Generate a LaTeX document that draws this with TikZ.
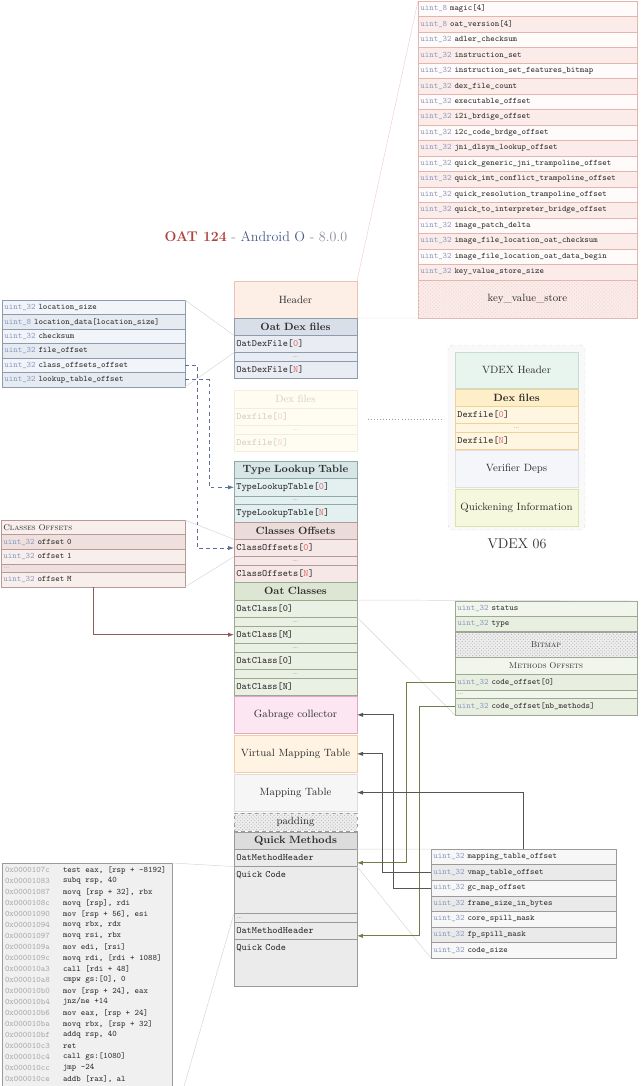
\documentclass[tikz,border=0pt]{standalone}
\usepackage{xcolor}
\usepackage{tikz}
\usetikzlibrary{positioning,calc,arrows.meta,patterns}
\definecolor{CInk}{HTML}{2E2E2E}
\definecolor{CType}{HTML}{8A9CC0}
\definecolor{CIdx}{HTML}{E07070}
\definecolor{CDots}{HTML}{999999}
\definecolor{CHdrLine}{HTML}{E3B5AE}
\definecolor{CHdrA}{HTML}{FFFBFA}
\definecolor{CHdrB}{HTML}{FBECE9}
\definecolor{CHead}{HTML}{FDEEE6}
\definecolor{CHeadLine}{HTML}{EBC3B5}
\definecolor{CDexLine}{HTML}{8E9AAE}
\definecolor{CDex}{HTML}{E9EDF3}
\definecolor{CDexT}{HTML}{D9DFE8}
\definecolor{CFade}{HTML}{FFFDF2}
\definecolor{CFadeLine}{HTML}{F3EEDC}
\definecolor{CFadeInk}{HTML}{D5CFC0}
\definecolor{CTlLine}{HTML}{8FA8A8}
\definecolor{CTl}{HTML}{E4EFEF}
\definecolor{CTlT}{HTML}{D6E5E5}
\definecolor{CCoLine}{HTML}{B49A98}
\definecolor{CCo}{HTML}{F5E8E6}
\definecolor{CCoT}{HTML}{ECDCD9}
\definecolor{COcLine}{HTML}{9AAA90}
\definecolor{COc}{HTML}{EAF0E3}
\definecolor{COcT}{HTML}{DCE6D2}
\definecolor{CGc}{HTML}{FCE6F1}
\definecolor{CGcLine}{HTML}{E6A6CB}
\definecolor{CVm}{HTML}{FFF3E4}
\definecolor{CVmLine}{HTML}{F1CD9F}
\definecolor{CMt}{HTML}{F6F6F6}
\definecolor{CMtLine}{HTML}{DDDDDD}
\definecolor{CPad}{HTML}{EEEEEE}
\definecolor{CPadDot}{HTML}{B5B5B5}
\definecolor{CQmLine}{HTML}{9A9A9A}
\definecolor{CQm}{HTML}{EBEBEB}
\definecolor{CQmT}{HTML}{DCDCDC}
\definecolor{CLocA}{HTML}{F1F4F8}
\definecolor{CLocB}{HTML}{E6EBF1}
\definecolor{CCoA}{HTML}{F8EEEC}
\definecolor{CCoB}{HTML}{EFE0DD}
\definecolor{COcA}{HTML}{F1F5EC}
\definecolor{COcB}{HTML}{E8EEE0}
\definecolor{CMhA}{HTML}{F7F7F7}
\definecolor{CMhB}{HTML}{EAEAEA}
\definecolor{CAsm}{HTML}{F0F0F0}
\definecolor{CAddr}{HTML}{A8A8A8}
\definecolor{CVdexBg}{HTML}{F9F9F9}
\definecolor{CVdexLine}{HTML}{DDDDDD}
\definecolor{CVh}{HTML}{E8F5EF}
\definecolor{CVhLine}{HTML}{C6DDD3}
\definecolor{CVd}{HTML}{FFF6E2}
\definecolor{CVdT}{HTML}{FFEFC8}
\definecolor{CVdLine}{HTML}{EDD39A}
\definecolor{CVer}{HTML}{F5F6F9}
\definecolor{CVerLine}{HTML}{E0E0E6}
\definecolor{CQk}{HTML}{F6F8DE}
\definecolor{CQkLine}{HTML}{DCE2A8}
\definecolor{CArrow}{HTML}{555555}
\definecolor{CGreenArr}{HTML}{6B7F47}
\definecolor{CBrown}{HTML}{8E5A5A}
\definecolor{CDash}{HTML}{5F6F9A}
\definecolor{CZoom}{HTML}{D5D5D5}
\definecolor{CZoomPink}{HTML}{F0D0CA}
\definecolor{COat}{HTML}{B0413E}
\definecolor{CAnd}{HTML}{4A5E8C}
\definecolor{CVer2}{HTML}{8A8A9A}
\newcommand{\fieldfont}{\fontsize{7.2pt}{8.5pt}\selectfont\ttfamily}
\newcommand{\colfont}{\fontsize{8.3pt}{10pt}\selectfont\ttfamily}
\newcommand{\capsfont}{\fontsize{7.2pt}{8.5pt}\selectfont\scshape}
\newcommand{\ui}[1]{\textcolor{CType}{uint\_#1}\ }
\newcommand{\ix}[1]{[\textcolor{CIdx}{#1}]}

\begin{document}
\begin{tikzpicture}[x=0.3mm, y=-0.3mm, every node/.style={outer sep=0pt, text=CInk},
  cell/.style={anchor=north west, inner xsep=2pt, inner ysep=0pt, align=left},
  srow/.style={cell, font=\fieldfont},
  sdots/.style={srow, font=\scriptsize, text=CDots},
  mrow/.style={cell, text width=35.49mm, minimum height=5.2mm, font=\colfont},
  mdots/.style={mrow, align=center, minimum height=2.6mm, font=\scriptsize, text=CDots},
  mtitle/.style={mrow, align=center, font=\small\bfseries},
  mblock/.style={anchor=north west, inner sep=0pt, minimum width=36.9mm, minimum height=11.1mm, font=\small},
  hatch/.style={postaction={pattern=crosshatch dots, pattern color=#1}},
  zl/.style={draw=#1, line width=0.4pt},
  ptr/.style={-{Latex[length=1.8mm, width=1.3mm]}, line width=0.65pt, draw=CArrow}]
\useasboundingbox (0,0) rectangle (640,1086);

\node[font=\large] (title) at (256,237) {\textcolor{COat}{\textbf{OAT 124}} \textcolor{CVer2}{-} \textcolor{CAnd}{Android O} \textcolor{CVer2}{- 8.0.0}};

\foreach \t/\f [count=\i from 0] in {8/magic[4], 8/oat\_version[4], 32/adler\_checksum, 32/instruction\_set,
    32/instruction\_set\_features\_bitmap, 32/dex\_file\_count, 32/executable\_offset, 32/i2i\_brdige\_offset,
    32/i2c\_code\_brdge\_offset, 32/jni\_dlsym\_lookup\_offset, 32/quick\_generic\_jni\_trampoline\_offset,
    32/quick\_imt\_conflict\_trampoline\_offset, 32/quick\_resolution\_trampoline\_offset,
    32/quick\_to\_interpreter\_bridge\_offset, 32/image\_patch\_delta, 32/image\_file\_location\_oat\_checksum,
    32/image\_file\_location\_oat\_data\_begin, 32/key\_value\_store\_size} {
  \ifodd\i \def\rowfill{CHdrB}\else\def\rowfill{CHdrA}\fi
  \node[srow, draw=CHdrLine, fill=\rowfill, text width=64.29mm, minimum height=4.65mm] (hd\i) at (418,1+15.5*\i) {\ui{\t}\f};
}
\node[mblock, draw=CHdrLine, fill=CHdrB, hatch=CHdrLine!60, minimum width=65.7mm, minimum height=11.4mm, below=0pt of hd17] (kvs) {key\_value\_store};

\node[mblock, fill=CHead, draw=CHeadLine] (header) at (234,281) {Header};
\node[mtitle, fill=CDexT, draw=CDexLine, below=0pt of header] (odft) {Oat Dex files};
\node[mrow, fill=CDex, draw=CDexLine, below=0pt of odft] (odf0) {OatDexFile\ix{0}};
\node[mdots, fill=CDex, draw=CDexLine, below=0pt of odf0] (odfd) {\dots};
\node[mrow, fill=CDex, draw=CDexLine, below=0pt of odfd] (odfn) {OatDexFile\ix{N}};

\node[mtitle, font=\small, fill=CFade, draw=CFadeLine, text=CFadeInk, below=3.6mm of odfn] (dxt) {Dex files};
\node[mrow, fill=CFade, draw=CFadeLine, text=CFadeInk, below=0pt of dxt] (dx0) {Dexfile[\textcolor{CIdx!30}{0}]};
\node[mdots, fill=CFade, draw=CFadeLine, text=CFadeInk, below=0pt of dx0] (dxd) {\dots};
\node[mrow, fill=CFade, draw=CFadeLine, text=CFadeInk, below=0pt of dxd] (dxn) {Dexfile[\textcolor{CIdx!30}{N}]};

\node[mtitle, fill=CTlT, draw=CTlLine, below=3mm of dxn] (tltt) {Type Lookup Table};
\node[mrow, fill=CTl, draw=CTlLine, below=0pt of tltt] (tlt0) {TypeLookupTable\ix{0}};
\node[mdots, fill=CTl, draw=CTlLine, below=0pt of tlt0] (tltd) {\dots};
\node[mrow, fill=CTl, draw=CTlLine, below=0pt of tltd] (tltn) {TypeLookupTable\ix{N}};

\node[mtitle, fill=CCoT, draw=CCoLine, below=0pt of tltn] (coft) {Classes Offsets};
\node[mrow, fill=CCo, draw=CCoLine, below=0pt of coft] (cof0) {ClassOffsets\ix{0}};
\node[mdots, fill=CCo, draw=CCoLine, below=0pt of cof0] (cofd) {\dots};
\node[mrow, fill=CCo, draw=CCoLine, below=0pt of cofd] (cofn) {ClassOffsets\ix{N}};

\node[mtitle, fill=COcT, draw=COcLine, below=0pt of cofn] (oct) {Oat Classes};
\node[mrow, fill=COc, draw=COcLine, below=0pt of oct] (oc0) {OatClass[0]};
\node[mdots, fill=COc, draw=COcLine, below=0pt of oc0] (ocd1) {\dots};
\node[mrow, fill=COc, draw=COcLine, below=0pt of ocd1] (ocM) {OatClass[M]};
\node[mdots, fill=COc, draw=COcLine, below=0pt of ocM] (ocd2) {\dots};
\node[mrow, fill=COc, draw=COcLine, below=0pt of ocd2] (oc0b) {OatClass[0]};
\node[mdots, fill=COc, draw=COcLine, below=0pt of oc0b] (ocd3) {\dots};
\node[mrow, fill=COc, draw=COcLine, below=0pt of ocd3] (ocN) {OatClass[N]};

\node[mblock, fill=CGc, draw=CGcLine, below=0.3mm of ocN] (gc) {Gabrage collector};
\node[mblock, fill=CVm, draw=CVmLine, below=0.6mm of gc] (vmt) {Virtual Mapping Table};
\node[mblock, fill=CMt, draw=CMtLine, minimum height=10.95mm, below=0.6mm of vmt] (mtab) {Mapping Table};
\node[mblock, fill=CPad, draw=CQmLine, dashed, hatch=CPadDot, minimum height=5.4mm, below=0.6mm of mtab] (pad) {padding};
\node[mtitle, fill=CQmT, draw=CQmLine, below=0.3mm of pad] (qmt) {Quick Methods};
\node[mrow, fill=CQm, draw=CQmLine, below=0pt of qmt] (omh1) {OatMethodHeader};
\node[mrow, fill=CQm, draw=CQmLine, text height=3.4mm, text depth=10.7mm, below=0pt of omh1] (qc1) {Quick Code};
\node[mdots, fill=CQm, draw=CQmLine, align=left, below=0pt of qc1] (qmd) {\dots};
\node[mrow, fill=CQm, draw=CQmLine, below=0pt of qmd] (omh2) {OatMethodHeader};
\node[mrow, fill=CQm, draw=CQmLine, text height=3.4mm, text depth=10.7mm, below=0pt of omh2] (qc2) {Quick Code};

\foreach \t/\f [count=\i from 0] in {32/location\_size, 8/location\_data[location\_size], 32/checksum,
    32/file\_offset, 32/class\_offsets\_offset, 32/lookup\_table\_offset} {
  \ifodd\i \def\rowfill{CLocB}\else\def\rowfill{CLocA}\fi
  \node[srow, draw=CDexLine, fill=\rowfill, text width=53.49mm, minimum height=4.35mm] (loc\i) at (2,300+14.5*\i) {\ui{\t}\f};
}

\node[srow, draw=CCoLine, fill=CCoA, text width=53.79mm, minimum height=4.35mm, font=\capsfont] (cot) at (1,520) {Classes Offsets};
\node[srow, draw=CCoLine, fill=CCoB, text width=53.79mm, minimum height=4.5mm, below=0pt of cot] (coo0) {\ui{32}offset 0};
\node[srow, draw=CCoLine, fill=CCoA, text width=53.79mm, minimum height=4.35mm, below=0pt of coo0] (coo1) {\ui{32}offset 1};
\node[sdots, draw=CCoLine, fill=CCoB, text width=53.79mm, minimum height=2.4mm, below=0pt of coo1] (cood) {\dots};
\node[srow, draw=CCoLine, fill=CCoA, text width=53.79mm, minimum height=4.5mm, below=0pt of cood] (cooM) {\ui{32}offset M};

\node[srow, draw=COcLine, fill=COcA, text width=53.19mm, minimum height=4.5mm] (cls0) at (455,601) {\ui{32}status};
\node[srow, draw=COcLine, fill=COcB, text width=53.19mm, minimum height=4.5mm, below=0pt of cls0] (cls1) {\ui{32}type};
\node[srow, draw=CQmLine, fill=CPad, hatch=CPadDot, align=center, font=\capsfont, text width=53.19mm, minimum height=7.5mm, below=0.3mm of cls1] (bmp) {Bitmap};
\node[srow, draw=COcLine, fill=COcA, align=center, font=\capsfont, text width=53.19mm, minimum height=5.1mm, below=0pt of bmp] (mof) {Methods Offsets};
\node[srow, draw=COcLine, fill=COcB, text width=53.19mm, minimum height=4.8mm, below=0pt of mof] (mo0) {\ui{32}code\_offset[0]};
\node[sdots, draw=COcLine, fill=COcA, text width=53.19mm, minimum height=2.4mm, below=0pt of mo0] (mod) {\dots};
\node[srow, draw=COcLine, fill=COcB, text width=53.19mm, minimum height=5.1mm, below=0pt of mod] (mon) {\ui{32}code\_offset[nb\_methods]};

\foreach \f [count=\i from 0] in {mapping\_table\_offset, vmap\_table\_offset, gc\_map\_offset,
    frame\_size\_in\_bytes, core\_spill\_mask, fp\_spill\_mask, code\_size} {
  \ifodd\i \def\rowfill{CMhB}\else\def\rowfill{CMhA}\fi
  \node[srow, draw=CQmLine, fill=\rowfill, text width=54.09mm, minimum height=4.68mm] (mh\i) at (431,849+15.6*\i) {\ui{32}\f};
}

\node[anchor=north west, draw=CQmLine, fill=CAsm, minimum width=51mm, minimum height=79.5mm] (asm) at (2,863) {};
\foreach \a/\c [count=\i from 0] in {107c/{test eax, [rsp + -8192]}, 1083/{subq rsp, 40}, 1087/{movq [rsp + 32], rbx},
    108c/{movq [rsp], rdi}, 1090/{mov [rsp + 56], esi}, 1094/{movq rbx, rdx}, 1097/{movq rsi, rbx},
    109a/{mov edi, [rsi]}, 109c/{movq rdi, [rdi + 1088]}, 10a3/{call [rdi + 48]}, 10a8/{cmpw gs:[0], 0},
    10b0/{mov [rsp + 24], eax}, 10b4/{jnz/ne +14}, 10b6/{mov eax, [rsp + 24]}, 10ba/{movq rbx, [rsp + 32]},
    10bf/{addq rsp, 40}, 10c3/{ret}, 10c4/{call gs:[1080]}, 10cc/{jmp -24}, 10ce/{addb [rax], al}} {
  \node[anchor=west, inner sep=0pt, font=\fieldfont, text=CAddr] (ad\i) at (5,870+11*\i) {0x0000\a};
  \node[anchor=west, inner sep=0pt, font=\fieldfont] (in\i) at (63,870+11*\i) {\c};
}

\node[anchor=north west, draw=CVdexLine, dashed, rounded corners=4pt, fill=CVdexBg, minimum width=41.1mm, minimum height=55.5mm] (vdex) at (448,345) {};
\node[mblock, fill=CVh, draw=CVhLine, minimum height=10.8mm] (vhd) at (455,352) {VDEX Header};
\node[mtitle, fill=CVdT, draw=CVdLine, below=0.3mm of vhd] (vdt) {Dex files};
\node[mrow, fill=CVd, draw=CVdLine, below=0pt of vdt] (vd0) {Dexfile\ix{0}};
\node[mdots, fill=CVd, draw=CVdLine, below=0pt of vd0] (vdd) {\dots};
\node[mrow, fill=CVd, draw=CVdLine, below=0pt of vdd] (vdn) {Dexfile\ix{N}};
\node[mblock, fill=CVer, draw=CVerLine, below=0.3mm of vdn] (ver) {Verifier Deps};
\node[mblock, fill=CQk, draw=CQkLine, below=0.6mm of ver] (qk) {Quickening Information};
\node[font=\large] (vlbl) at (517,544) {VDEX 06};

\draw[dotted, line width=0.6pt, draw=CDots] ($(dx0.east)+(11,3)$) -- ($(dx0.east -| vdex.west)+(-5,3)$);

\draw[zl=CZoomPink] (header.north east) -- (hd0.north west);
\draw[zl=CZoomPink] (header.south east) -- (kvs.south west);
\draw[zl=CZoom] (loc0.north east) -- (odf0.north west);
\draw[zl=CZoom] (loc5.south east) -- (odf0.south west);
\draw[zl=CZoom] (cot.north east) -- (cof0.north west);
\draw[zl=CZoom] (cooM.south east) -- (cof0.south west);
\draw[zl=CZoom] (oc0.north east) -- (cls0.north east);
\draw[zl=CZoom] (oc0.south east) -- (mon.south west);
\draw[zl=CZoom] (omh1.north east) -- (mh0.north west);
\draw[zl=CZoom] (omh1.south east) -- (mh6.south west);
\draw[zl=CZoom] (asm.north east) -- (qc1.north west);
\draw[zl=CZoom] (asm.south east) -- (qc1.south west);

\draw[ptr, dashed, draw=CDash] (loc4.east) -- ++(12,0) |- (cof0.west);
\draw[ptr, dashed, draw=CDash] (loc5.east) -- ++(24,0) |- (tlt0.west);
\draw[ptr, draw=CBrown] (cooM.south) |- (ocM.west);
\draw[ptr, draw=CGreenArr] (mo0.west) -- ++(-49,0) |- ([yshift=-1.5mm]omh1.east);
\draw[ptr, draw=CGreenArr] (mon.west) -- ++(-36,0) |- ([yshift=-1.5mm]omh2.east);
\draw[ptr] (mh0.north) |- (mtab.east);
\draw[ptr] (mh1.west) -- ++(-49,0) |- (vmt.east);
\draw[ptr] (mh2.west) -- ++(-38,0) |- (gc.east);
\end{tikzpicture}
\end{document}
